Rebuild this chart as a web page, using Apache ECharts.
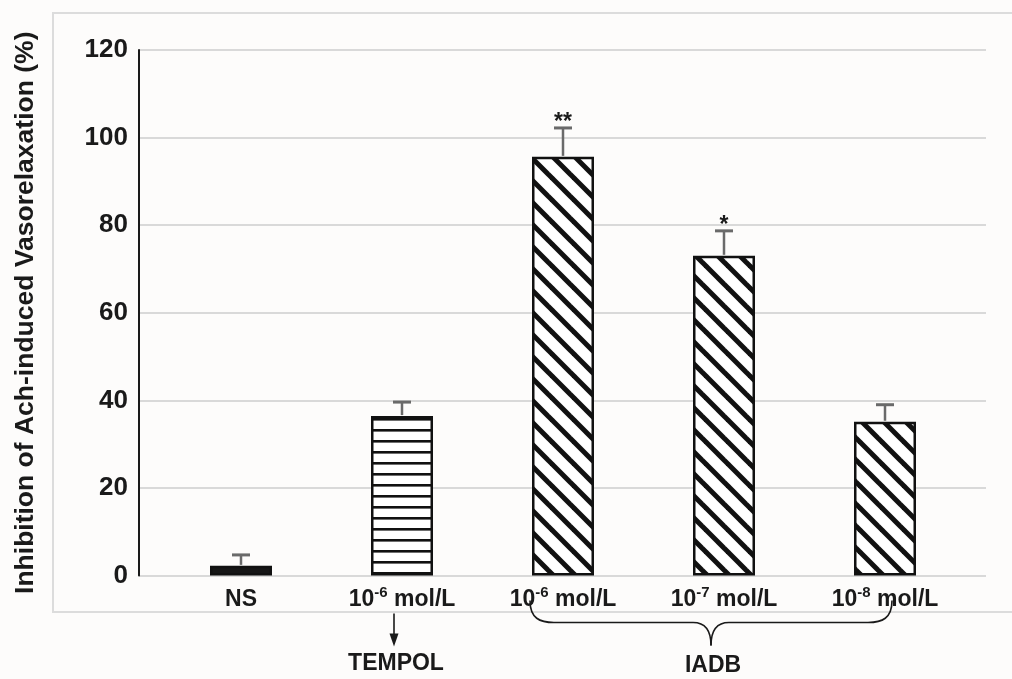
<!DOCTYPE html>
<html>
<head>
<meta charset="utf-8">
<script src="https://cdn.jsdelivr.net/npm/echarts@6/dist/echarts.min.js"></script>
<style>
  html, body { margin: 0; padding: 0; background: #fdfcfb; }
  #chart { width: 1012px; height: 679px; }
</style>
</head>
<body>
<div id="chart"></div>
<script>
// ---- data ----
const categories = ['NS', '10^-6 mol/L', '10^-6 mol/L', '10^-7 mol/L', '10^-8 mol/L'];
const values = [2.2, 36.4, 95.6, 73.0, 35.1];
const errors = [2.5, 3.2, 6.6, 5.7, 3.9];
const significance = ['', '', '**', '*', ''];
const fills = ['solid', 'hstripe', 'dstripe', 'dstripe', 'dstripe'];
const yTicks = [0, 20, 40, 60, 80, 100, 120];
const yTitle = 'Inhibition of Ach-induced Vasorelaxation (%)';
const groupLabels = ['TEMPOL', 'IADB'];
const groupRanges = [[1, 1], [2, 4]];

// ---- patterns ----
function hStripe() {
  const c = document.createElement('canvas');
  c.width = 8; c.height = 11;
  const g = c.getContext('2d');
  g.fillStyle = '#ffffff'; g.fillRect(0, 0, c.width, c.height);
  g.fillStyle = '#111111'; g.fillRect(0, 0, c.width, 2.6);
  return c;
}
function dStripe() {
  const p = 22;
  const c = document.createElement('canvas');
  c.width = p; c.height = p;
  const g = c.getContext('2d');
  g.fillStyle = '#ffffff'; g.fillRect(0, 0, p, p);
  g.strokeStyle = '#111111'; g.lineWidth = 5;
  for (let k = -1; k <= 1; k++) {
    g.beginPath(); g.moveTo(k * p - 2, -2); g.lineTo(k * p + p + 2, p + 2); g.stroke();
  }
  return c;
}
const patterns = {
  solid: '#161616',
  hstripe: { image: hStripe(), repeat: 'repeat' },
  dstripe: { image: dStripe(), repeat: 'repeat' }
};

const FONT = '"Liberation Sans", Arial, sans-serif';

function catLabel(s) {
  const m = s.match(/^(\d+)\^(-?\d+)(.*)$/);
  if (!m) return '{sup| }{b|' + s + '}{sup| }';
  return '{b|' + m[1] + '}{sup|' + m[2] + '}{b|' + m[3] + '}';
}

const chart = echarts.init(document.getElementById('chart'), null, { renderer: 'canvas' });

const gridTop = 50, gridBottom = 103.5;
const option = {
  backgroundColor: '#fdfcfb',
  animation: false,
  grid: [
    { left: 139, right: 26, top: gridTop, bottom: gridBottom },
    { left: 160.5, width: 805, top: gridTop, bottom: gridBottom }
  ],
  xAxis: [
    { gridIndex: 0, type: 'value', min: 0, max: 1, show: false },
    {
      gridIndex: 1, type: 'category', data: categories,
      axisLine: { show: false }, axisTick: { show: false },
      axisLabel: {
        margin: 10,
        formatter: catLabel,
        rich: {
          b: { fontFamily: FONT, fontWeight: 'bold', fontSize: 23, color: '#1a1a1a' },
          sup: { fontFamily: FONT, fontWeight: 'bold', fontSize: 15, color: '#1a1a1a', padding: [0, 0, 13, 0] }
        }
      }
    }
  ],
  yAxis: [
    {
      gridIndex: 0, type: 'value', min: yTicks[0], max: yTicks[yTicks.length - 1], interval: 20,
      axisLine: { show: true, lineStyle: { color: '#1a1a1a', width: 2 } },
      axisTick: { show: false },
      splitLine: { show: true, lineStyle: { color: '#d9d9d9', width: 2 } },
      axisLabel: { margin: 11, fontFamily: FONT, fontWeight: 'bold', fontSize: 26, color: '#1a1a1a' },
      name: yTitle, nameLocation: 'middle', nameRotate: 90, nameGap: 100,
      nameTextStyle: { fontFamily: FONT, fontWeight: 'bold', fontSize: 26.5, color: '#1a1a1a' }
    },
    { gridIndex: 1, type: 'value', min: yTicks[0], max: yTicks[yTicks.length - 1], show: false }
  ],
  series: [
    {
      type: 'bar', xAxisIndex: 1, yAxisIndex: 1, barWidth: 62,
      data: values.map((v, i) => ({
        value: v,
        itemStyle: { color: patterns[fills[i]], borderColor: '#111111', borderWidth: 2.5 }
      })),
      z: 3
    },
    {
      type: 'custom', xAxisIndex: 1, yAxisIndex: 1, z: 4,
      data: values.map((v, i) => [i, v, errors[i]]),
      renderItem: function (params, api) {
        const i = api.value(0);
        const base = api.coord([i, api.value(1)]);
        const top = api.coord([i, api.value(1) + api.value(2)]);
        const sig = significance[params.dataIndex];
        const children = [
          { type: 'line', shape: { x1: base[0], y1: base[1] - 1, x2: top[0], y2: top[1] },
            style: { stroke: '#6a6a6a', lineWidth: 2.5 } },
          { type: 'line', shape: { x1: top[0] - 9, y1: top[1], x2: top[0] + 9, y2: top[1] },
            style: { stroke: '#6a6a6a', lineWidth: 3 } }
        ];
        if (sig) {
          children.push({ type: 'text', x: top[0], y: top[1] + 6,
            style: { text: sig, fontFamily: FONT, fontWeight: 'bold', fontSize: 23, fill: '#1a1a1a',
                     align: 'center', verticalAlign: 'bottom' } });
        }
        return { type: 'group', children: children };
      }
    }
  ]
};
chart.setOption(option);

// ---- annotations (frame, arrow, brace) positioned from the scales ----
function px(i) { return chart.convertToPixel({ xAxisIndex: 1 }, i); }
const y0 = chart.convertToPixel({ yAxisIndex: 1 }, 0);
const graphics = [];
graphics.push({ type: 'rect', shape: { x: 53, y: 13, width: 1000, height: 599 },
  style: { fill: 'none', stroke: '#dcdcdc', lineWidth: 2 }, z: -1, silent: true });

const ink = { stroke: '#1a1a1a', lineWidth: 1.6, fill: 'none' };

// TEMPOL arrow
const tx = px(groupRanges[0][0]) - 8;
graphics.push({ type: 'line', shape: { x1: tx, y1: y0 + 38, x2: tx, y2: y0 + 62 }, style: ink });
graphics.push({ type: 'polygon', shape: { points: [[tx - 4.5, y0 + 58], [tx + 4.5, y0 + 58], [tx, y0 + 71]] },
  style: { fill: '#1a1a1a' } });
graphics.push({ type: 'text', x: tx + 2, y: y0 + 88,
  style: { text: groupLabels[0], fontFamily: FONT, fontWeight: 'bold', fontSize: 23, fill: '#1a1a1a',
           align: 'center', verticalAlign: 'middle' } });

// IADB brace
const bl = px(groupRanges[1][0]) - 33, br = px(groupRanges[1][1]) + 7;
const bm = (bl + br) / 2;
const yt = y0 + 25, yb = y0 + 47, ya = y0 + 70;
function bez(x1, y1, c1x, c1y, c2x, c2y, x2, y2) {
  return { type: 'bezierCurve', shape: { x1: x1, y1: y1, cpx1: c1x, cpy1: c1y, cpx2: c2x, cpy2: c2y, x2: x2, y2: y2 }, style: ink };
}
graphics.push(bez(bl, yt, bl, yb - 4, bl + 10, yb, bl + 24, yb));
graphics.push({ type: 'line', shape: { x1: bl + 24, y1: yb, x2: bm - 18, y2: yb }, style: ink });
graphics.push(bez(bm - 18, yb, bm - 6, yb, bm, yb + 8, bm, ya));
graphics.push(bez(bm, ya, bm, yb + 8, bm + 6, yb, bm + 18, yb));
graphics.push({ type: 'line', shape: { x1: bm + 18, y1: yb, x2: br - 24, y2: yb }, style: ink });
graphics.push(bez(br - 24, yb, br - 10, yb, br, yb - 4, br, yt));
graphics.push({ type: 'text', x: bm + 2, y: y0 + 90,
  style: { text: groupLabels[1], fontFamily: FONT, fontWeight: 'bold', fontSize: 23, fill: '#1a1a1a',
           align: 'center', verticalAlign: 'middle' } });

chart.setOption({ graphic: graphics });
</script>
</body>
</html>
